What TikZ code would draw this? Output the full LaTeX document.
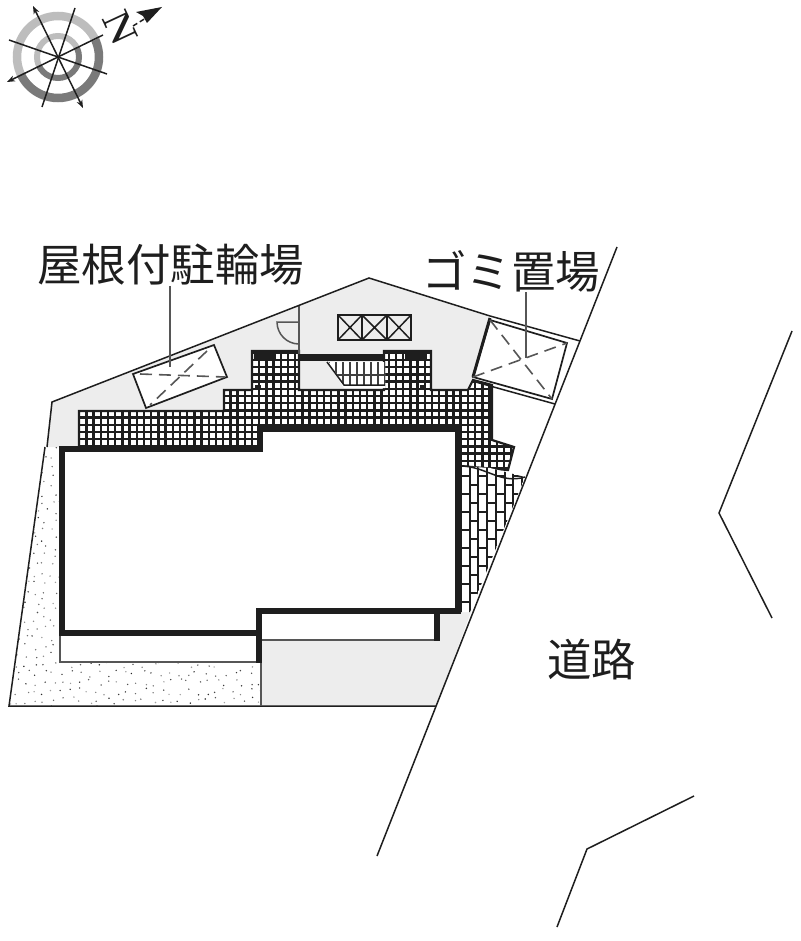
\documentclass[tikz,border=0pt]{standalone}
\usepackage{fontspec}
\usetikzlibrary{arrows.meta}
\newfontfamily\cjk{Noto Sans CJK JP}
\definecolor{paved}{HTML}{EDEDED}
\definecolor{ink}{HTML}{1E1E1E}
\definecolor{ringlight}{HTML}{BDBDBD}
\definecolor{ringdark}{HTML}{7A7A7A}
\newcommand{\meshfill}[1]{%
  \begin{scope}
    \clip #1;
    \fill[white] (0,0) rectangle (800,941);
    \draw[mesh line] (0,0) grid[step=7.2pt] (800,941);
  \end{scope}
  \draw[mesh edge] #1;
}
\begin{document}
\begin{tikzpicture}[x=1pt,y=-1pt,line join=miter,
    label text/.style={font=\cjk\fontsize{44.5}{44.5}\selectfont,inner sep=0pt,text=ink},
    site line/.style={draw=ink,line width=1.5pt},
    thin line/.style={draw=ink!75,line width=1.5pt},
    wall/.style={draw=ink,line width=5.6pt},
    mesh line/.style={draw=ink,line width=2.4pt},
    mesh edge/.style={draw=ink,line width=2.2pt},
    dash line/.style={draw=ink!75,line width=1.6pt,dash pattern=on 12pt off 7pt},
    box line/.style={draw=ink,line width=1.7pt,fill=white},
    needle/.style={draw=ink,line width=1.5pt}]
    \useasboundingbox (0,0) rectangle (800,941);

    % paved ground
    \fill[paved] (47,447) -- (52,402) -- (369,278) -- (490,317) -- (470,392) -- (224,392) -- (224,447) -- cycle;
    \fill[paved] (262,640) -- (437,640) -- (437,612) -- (471,612) -- (436,706) -- (261,706) -- cycle;

    % planted strip
    \begin{scope}
        \clip (45,447) -- (60,447) -- (60,662) -- (261,662) -- (261,706) -- (9,706) -- cycle;
        \pgfmathsetseed{7}
        \foreach \ix in {0,...,29}{
            \foreach \iy in {0,...,29}{
                \pgfmathsetmacro{\dotx}{5+\ix*9+rnd*7}
                \pgfmathsetmacro{\doty}{445+\iy*9+rnd*7}
                \pgfmathsetmacro{\dotk}{35+rnd*50}
                \fill[black!\dotk] (\dotx,\doty) circle (0.8pt);
            }
        }
    \end{scope}

    % meshed walkways
    \meshfill{(79,411) -- (224,411) -- (224,390) -- (252,390) -- (252,351) -- (299,351) -- (299,390) -- (384,390) -- (384,351) -- (431,351) -- (431,390) -- (468,390) -- (473,380) -- (492,385) -- (492,440) -- (514,447) -- (508,470) -- (460,466) -- (460,430) -- (260,430) -- (260,447) -- (79,447) -- cycle}
    \draw[draw=ink,line width=3pt] (460,390) -- (460,432);
    \fill[ink] (254,353) rectangle (276,359);
    \fill[ink] (405,353) rectangle (427,359);
    \fill[ink] (255,385) rectangle (261,390);
    \fill[ink] (420,385) rectangle (426,390);

    % brick paving
    \begin{scope}
        \clip (460,466) -- (490,468) -- (525,477) -- (470,612) -- (460,612) -- cycle;
        \fill[white] (455,460) rectangle (530,615);
        \foreach \c in {0,...,7}{
            \pgfmathsetmacro{\colx}{461+\c*8.7}
            \draw[mesh line,line width=2pt] (\colx,460) -- (\colx,615);
            \pgfmathsetmacro{\rowoff}{mod(\c,2)*9}
            \foreach \r in {0,...,8}{
                \pgfmathsetmacro{\rowy}{476+\rowoff+\r*18}
                \draw[mesh line,line width=2pt] (\colx,\rowy) -- ++(8.7,0);
            }
        }
    \end{scope}
    \draw[site line] (460,466) to[out=0,in=197] (525,477);

    % stairs
    \fill[white] (327,362) -- (385,362) -- (385,388) -- (344,388) -- cycle;
    \begin{scope}
        \clip (329,362) -- (385,362) -- (385,385) -- (344,385) -- cycle;
        \foreach \s in {0,...,8}{
            \draw[draw=ink!85,line width=2pt] (329+\s*7,360) -- (329+\s*7,387);
        }
        \draw[draw=ink!85,line width=1.6pt] (325,375) -- (390,375);
    \end{scope}
    \draw[site line] (327,362) -- (344,385) -- (385,385);
    \fill[ink] (299,354) rectangle (384,361);

    % door
    \draw[thin line] (299,305) -- (299,354);
    \draw[thin line] (299,322) -- (277,322) arc[start angle=180,end angle=270,radius=22pt];

    % bike shelter
    \draw[box line] (133,374) -- (214,345) -- (227,377) -- (146,408) -- cycle;
    \coordinate (roof end) at (170,367);
    \draw[dash line] (140,374) -- (225,377);
    \draw[dash line] (207,351) -- (150,405);

    % waste station
    \draw[site line] (490,316) -- (580,341);
    \draw[box line] (490,320) -- (567,343) -- (552,399) -- (473,377) -- cycle;
    \draw[draw=ink,line width=3pt] (490,318) -- (473,377);
    \draw[site line] (472,381) -- (555,404);
    \coordinate (waste end) at (526,358);
    \draw[dash line] (490,320) -- (552,399);
    \draw[dash line] (473,377) -- (567,343);

    % meter boxes
    \draw[box line,fill=none] (338,315) rectangle (411,340);
    \foreach \a/\b in {338/362,362/387,387/411}{
        \draw[site line] (\a,315) -- (\b,340) (\a,340) -- (\b,315);
        \draw[site line] (\b,315) -- (\b,340);
    }

    % site boundary and road
    \draw[site line] (47,447) -- (52,402) -- (369,278) -- (490,316);
    \draw[site line] (45,447) -- (9,706) -- (436,706);
    \draw[thin line] (261,662) -- (261,706);
    \draw[site line] (617,247) -- (377,856);
    \draw[site line] (792,331) -- (719,513) -- (772,618);
    \draw[site line] (694,796) -- (587,849) -- (557,927);

    % building
    \draw[thin line] (60,633) -- (60,662) -- (259,662);
    \draw[thin line] (262,640) -- (437,640);
    \draw[wall,fill=white] (62,449) -- (260,449) -- (260,429) -- (458,429) -- (458,611) -- (259,611) -- (259,633) -- (62,633) -- cycle;
    \draw[wall] (259,633) -- (259,663);
    \draw[wall] (437,611) -- (437,641);

    % labels
    \node[label text,anchor=west] (roof label) at (37,265) {屋根付駐輪場};
    \node[label text,anchor=west] (waste label) at (422,271) {ゴミ置場};
    \node[label text,anchor=west] (road label) at (547,660) {道路};
    \draw[thin line] (roof label.south -| roof end) -- (roof end);
    \draw[thin line] (waste label.south -| waste end) -- (waste end);

    % compass
    \coordinate (dial) at (58,57);
    \begin{scope}
        \clip (-20,93) -- (136,21) -- (-20,-60) -- cycle;
        \draw[draw=ringlight,line width=8.5pt] (dial) circle (41pt);
        \draw[draw=ringlight,line width=6pt] (dial) circle (21pt);
    \end{scope}
    \begin{scope}
        \clip (-20,93) -- (136,21) -- (136,150) -- (-20,150) -- cycle;
        \draw[draw=ringdark,line width=8.5pt] (dial) circle (41pt);
        \draw[draw=ringdark,line width=6pt] (dial) circle (21pt);
    \end{scope}
    \draw[needle,-{Stealth[length=8pt,width=6pt]}] (dial) -- (33,6);
    \draw[needle,-{Stealth[length=8pt,width=6pt]}] (dial) -- (83,108);
    \draw[needle,-{Stealth[length=8pt,width=6pt]}] (dial) -- (7,82);
    \draw[needle] (dial) -- (103,35);
    \draw[needle] (75,8) -- (42,107);
    \draw[needle] (9,40) -- (107,74);
    \node[inner sep=0pt,rotate=-65,font=\fontsize{38}{38}\selectfont\bfseries,text=ink] (north) at (120,28) {N};
    \fill[ink] (162,7) -- (136,12) -- (143,16) -- (147,23) -- cycle;
    \draw[needle,dash pattern=on 5pt off 3pt] (133,26) -- (146,18);
\end{tikzpicture}
\end{document}
